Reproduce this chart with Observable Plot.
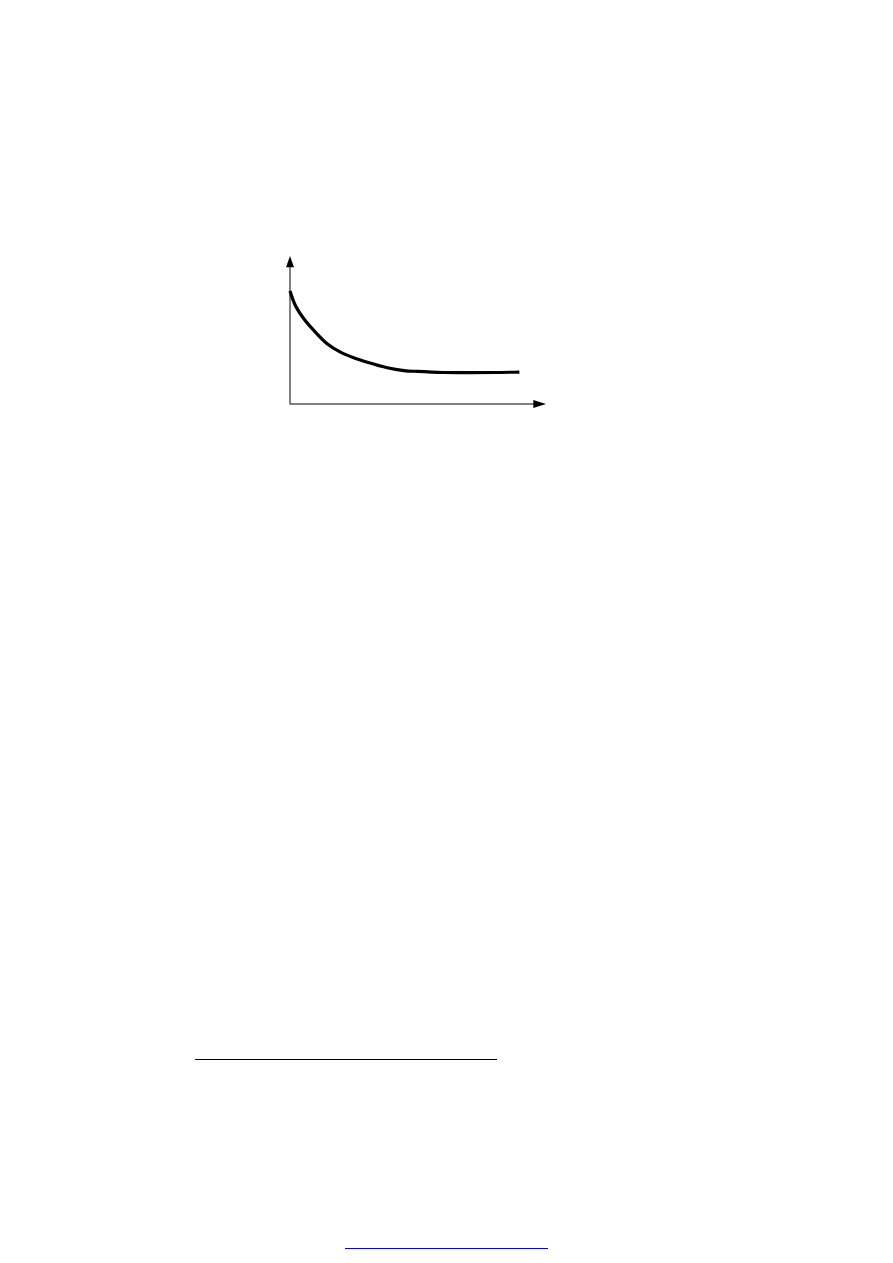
<!DOCTYPE html>
<html>
<head>
<meta charset="utf-8">
<script src="https://cdn.jsdelivr.net/npm/d3@7"></script>
<script src="https://cdn.jsdelivr.net/npm/@observablehq/plot@0.6"></script>
<style>
  html, body { margin: 0; padding: 0; background: #fff; width: 893px; height: 1263px; overflow: hidden; }
  #chart { position: absolute; left: 0; top: 0; }
  .rule { position: absolute; height: 0; }
  #foot1 { left: 195px; top: 1059px; width: 302px; border-top: 1px solid #000; }
  #foot2 { left: 345px; top: 1248px; width: 203px; border-top: 1px solid #0000ff; }
</style>
</head>
<body>
<div id="chart"></div>
<div class="rule" id="foot1"></div>
<div class="rule" id="foot2"></div>
<script>
// Curve samples (abstract units: x 0..10 along horizontal axis, y 0..10 along vertical axis)
const curveX = [0, 0.21, 0.54, 0.93, 1.45, 1.97, 2.49, 3.02, 3.80, 4.45, 4.97, 6.0, 7.95, 8.96];
const curveY = [7.64, 6.66, 5.76, 4.97, 4.07, 3.50, 3.12, 2.82, 2.45, 2.26, 2.20, 2.13, 2.13, 2.16];
// Axis extents
const axisMax = 10;

const curve = curveX.map((x, i) => ({x, y: curveY[i]}));
const heads = [
  {x: 0, y: axisMax, rotate: 0, len: 8},
  {x: axisMax, y: 0, rotate: 90, len: 9}
];
const triangle = {
  draw(context, l) {
    context.moveTo(0, 0);
    context.lineTo(-4, l);
    context.lineTo(4, l);
    context.closePath();
  }
};

const plot = Plot.plot({
  width: 893,
  height: 440,
  margin: 0,
  x: {domain: [0, axisMax], range: [289.5, 545.5], axis: null},
  y: {domain: [0, axisMax], range: [403.5, 255.5], axis: null},
  marks: [
    Plot.ruleX([0], {y1: 0, y2: axisMax - 0.3, stroke: "black", strokeWidth: 1}),
    Plot.ruleY([0], {x1: 0, x2: axisMax - 0.2, stroke: "black", strokeWidth: 1}),
    Plot.vector(heads, {x: "x", y: "y", rotate: "rotate", length: "len", anchor: "start",
      shape: triangle, fill: "black", stroke: "none"}),
    Plot.line(curve, {x: "x", y: "y", curve: "catmull-rom", stroke: "black",
      strokeWidth: 3.2, strokeLinecap: "butt", strokeLinejoin: "round"})
  ]
});
plot.style.background = "white";
document.getElementById("chart").appendChild(plot);
</script>
</body>
</html>
